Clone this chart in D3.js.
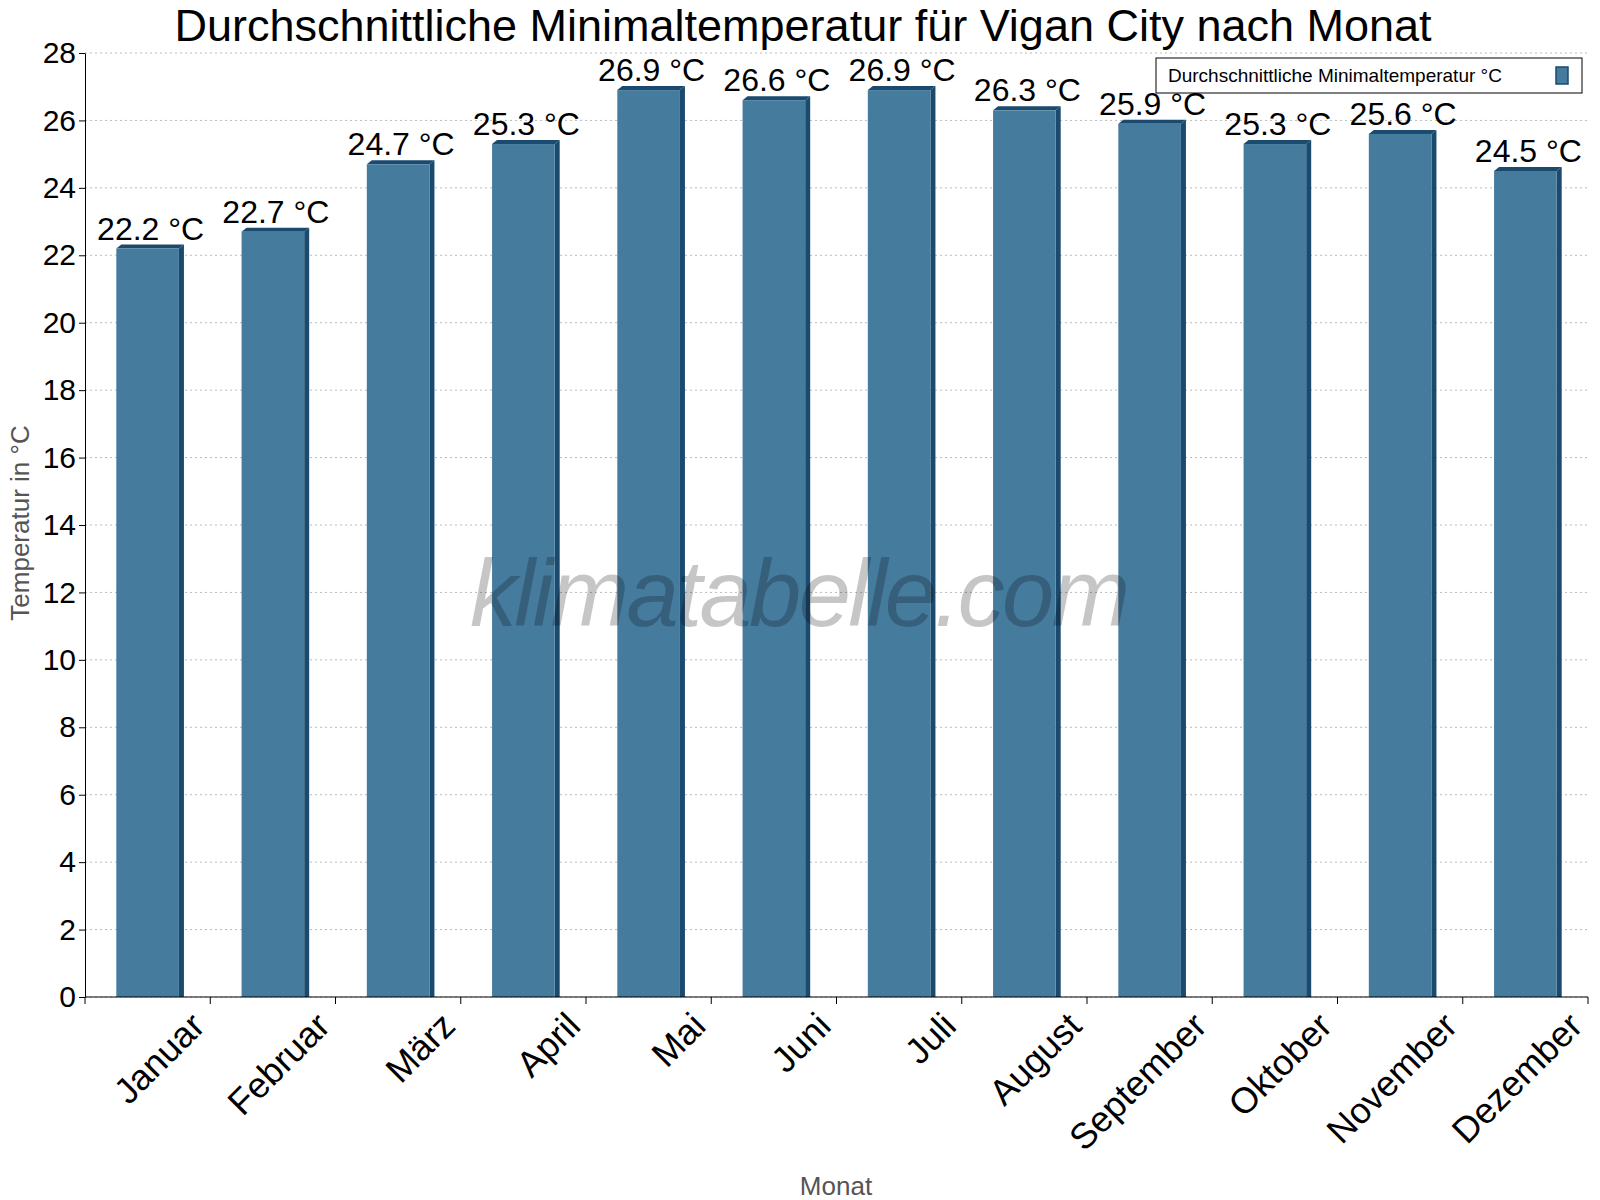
<!DOCTYPE html>
<html><head><meta charset="utf-8">
<script src="https://cdn.jsdelivr.net/npm/d3@7"></script>
<style>body{margin:0;background:#fff}text{font-family:Arial,"Liberation Sans",sans-serif}</style>
</head><body><svg id="c" width="1600" height="1200"></svg>
<script>
const months = ["Januar","Februar","März","April","Mai","Juni","Juli","August","September","Oktober","November","Dezember"];
const values = [22.2,22.7,24.7,25.3,26.9,26.6,26.9,26.3,25.9,25.3,25.6,24.5];
const yTicks = d3.range(0,29,2);
const seriesName = "Durchschnittliche Minimaltemperatur °C";

const svg = d3.select("#c");
const L=85,R=1588,T=53,B=997;
const x = d3.scaleBand().domain(months).range([L,R]).paddingInner(0.5).paddingOuter(0.25);
const y = d3.scaleLinear().domain([0,28]).range([B,T]);

svg.append("g").selectAll("line").data(yTicks).join("line")
  .attr("x1",L).attr("x2",R).attr("y1",d=>y(d)).attr("y2",d=>y(d))
  .attr("stroke","#bbb").attr("stroke-dasharray","2,3");

const d3off=5;
const g = svg.append("g");
months.forEach((m,i)=>{
  const x0=x(m), w=x.bandwidth(), yt=y(values[i]);
  g.append("polygon").attr("fill","#1a4a6e")
   .attr("points",`${x0+w},${yt} ${x0+w+d3off},${yt-d3off+1} ${x0+w+d3off},${B} ${x0+w},${B}`);
  g.append("polygon").attr("fill","#1a4a6e")
   .attr("points",`${x0},${yt} ${x0+d3off},${yt-d3off+1} ${x0+w+d3off},${yt-d3off+1} ${x0+w},${yt}`);
  g.append("rect").attr("x",x0).attr("y",yt).attr("width",w).attr("height",B-yt).attr("fill","#457b9d");
  g.append("text").attr("x",x0+w/2+3).attr("y",yt-9).attr("text-anchor","middle")
   .attr("font-size",32).attr("fill","#000").text(values[i]+" °C");
});

svg.append("text").attr("x",800).attr("y",626).attr("text-anchor","middle")
  .attr("font-size",94).attr("font-style","italic").attr("fill","#000").attr("opacity",0.22)
  .attr("textLength",660).text("klimatabelle.com");

const ya = svg.append("g").attr("transform",`translate(${L},0)`)
  .call(d3.axisLeft(y).tickValues(yTicks).tickSize(6).tickSizeOuter(0));
ya.selectAll("text").attr("font-size",30).attr("fill","#000");
ya.select(".domain").attr("stroke","#000");

const xa = svg.append("g").attr("transform",`translate(0,${B})`);
xa.append("line").attr("x1",L).attr("x2",R).attr("stroke","#000");
const step = x.step();
xa.selectAll("line.t").data(d3.range(13)).join("line").attr("class","t")
  .attr("x1",d=>L+d*step).attr("x2",d=>L+d*step).attr("y1",0).attr("y2",7).attr("stroke","#000");
xa.selectAll("text").data(months).join("text")
  .attr("transform",d=>`translate(${x(d)+x.bandwidth()/2+40},${12}) rotate(-45)`)
  .attr("text-anchor","end").attr("dy","0.75em").attr("font-size",36).attr("fill","#000").text(d=>d);

svg.append("text").attr("x",803).attr("y",41).attr("text-anchor","middle").attr("font-size",45).text("Durchschnittliche Minimaltemperatur für Vigan City nach Monat");
svg.append("text").attr("transform","translate(29,523) rotate(-90)").attr("text-anchor","middle").attr("font-size",26).attr("fill","#555").text("Temperatur in °C");
svg.append("text").attr("x",836).attr("y",1195).attr("text-anchor","middle").attr("font-size",26).attr("fill","#555").text("Monat");

const lg = svg.append("g");
lg.append("rect").attr("x",1156).attr("y",58).attr("width",426).attr("height",35).attr("fill","#fff").attr("stroke","#000");
lg.append("text").attr("x",1168).attr("y",82).attr("font-size",19).text(seriesName);
lg.append("rect").attr("x",1556).attr("y",67).attr("width",12).attr("height",17).attr("fill","#457b9d").attr("stroke","#1a4a6e").attr("stroke-width",1.5);
</script></body></html>
